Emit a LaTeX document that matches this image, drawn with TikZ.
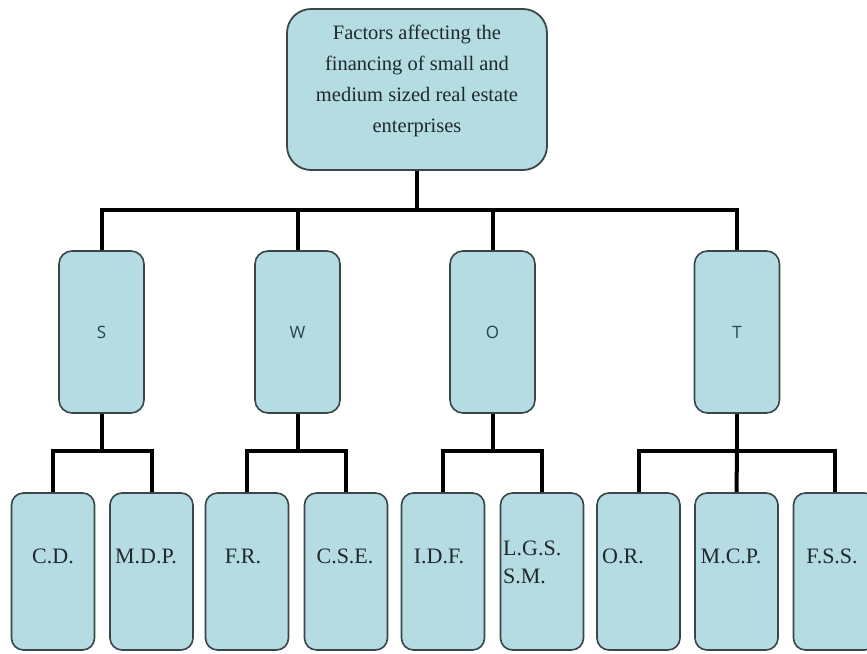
\documentclass[tikz,border=0pt]{standalone}
\usepackage{fontspec}
\setmainfont{Liberation Serif}
\newfontfamily\labsans{Open Sans}
\definecolor{boxfill}{RGB}{180,220,226}
\definecolor{boxline}{RGB}{58,70,72}
\definecolor{labcol}{RGB}{40,66,72}
\definecolor{txtcol}{RGB}{30,40,45}
\begin{document}
\begin{tikzpicture}[x=1pt,y=-1pt,
  topbox/.style={draw=boxline,fill=boxfill,line width=1.8pt,rounded corners=24pt,minimum width=260pt,minimum height=161pt,inner sep=0pt},
  midbox/.style={draw=boxline,fill=boxfill,line width=1.6pt,rounded corners=13pt,minimum width=85pt,minimum height=162pt,inner sep=0pt},
  lowbox/.style={draw=boxline,fill=boxfill,line width=1.6pt,rounded corners=12pt,minimum width=83pt,minimum height=157pt,inner sep=0pt},
  midlab/.style={font=\labsans\fontsize{17}{20}\selectfont,text=labcol},
  lowlab/.style={font=\fontsize{22}{28}\selectfont,text=txtcol,align=left,inner sep=0pt},
  conn/.style={line width=4pt,black,line join=miter}]
\useasboundingbox (0,0) rectangle (867,653);
\clip (0,0) rectangle (867,653);
\fill[white] (0,0) rectangle (867,653);

% nodes
\node[topbox] (top) at (417,89.5) {};
\node[font=\fontsize{20.5}{31}\selectfont,text=txtcol,align=center,inner sep=0pt] (toptext) at (417,81)
  {Factors affecting the\\financing of small and\\medium sized real estate\\enterprises};

\node[midbox] (s) at (101.5,332) {};
\node[midbox] (w) at (297.5,332) {};
\node[midbox] (o) at (492.5,332) {};
\node[midbox] (t) at (737,332) {};
\node[midlab] (sl) at (s.center) {S};
\node[midlab] (wl) at (w.center) {W};
\node[midlab] (ol) at (o.center) {O};
\node[midlab] (tl) at (t.center) {T};

\node[lowbox] (cd)  at (53,571.5) {};
\node[lowbox] (mdp) at (151.5,571.5) {};
\node[lowbox] (fr)  at (247,571.5) {};
\node[lowbox] (cse) at (346,571.5) {};
\node[lowbox] (idf) at (443,571.5) {};
\node[lowbox] (lgs) at (542,571.5) {};
\node[lowbox] (or)  at (638.5,571.5) {};
\node[lowbox] (mcp) at (736.5,571.5) {};
\node[lowbox] (fss) at (835,571.5) {};

\node[lowlab] (cdl)  at (53,556) {C.D.};
\node[lowlab] (mdpl) at (146,556) {M.D.P.};
\node[lowlab] (frl)  at (243,556) {F.R.};
\node[lowlab] (csel) at (345,556) {C.S.E.};
\node[lowlab] (idfl) at (439,556) {I.D.F.};
\node[lowlab,anchor=west] (lgsl) at (503,562) {L.G.S.\\S.M.};
\node[lowlab,anchor=west] (orl)  at (602,556) {O.R.};
\node[lowlab] (mcpl) at (731,556) {M.C.P.};
\node[lowlab] (fssl) at (832,556) {F.S.S.};

% joints
\coordinate (j0) at (417,210);
\coordinate (js) at (101.5,451);
\coordinate (jw) at (297.5,451);
\coordinate (jo) at (492.5,451);
\coordinate (jt) at (737,451);

% connectors
\draw[conn] (top.south) -- (j0);
\draw[conn] (s.north) |- (j0);
\draw[conn] (w.north) |- (j0);
\draw[conn] (o.north) |- (j0);
\draw[conn] (t.north) |- (j0);

\draw[conn] (s.south) -- (js);
\draw[conn] (cd.north) |- (js);
\draw[conn] (mdp.north) |- (js);
\draw[conn] (w.south) -- (jw);
\draw[conn] (fr.north) |- (jw);
\draw[conn] (cse.north) |- (jw);
\draw[conn] (o.south) -- (jo);
\draw[conn] (idf.north) |- (jo);
\draw[conn] (lgs.north) |- (jo);
\draw[conn] (t.south) -- (jt);
\draw[conn] (or.north) |- (jt);
\draw[conn] (mcp.north) -- (jt);
\draw[conn] (fss.north) |- (jt);
\end{tikzpicture}
\end{document}
